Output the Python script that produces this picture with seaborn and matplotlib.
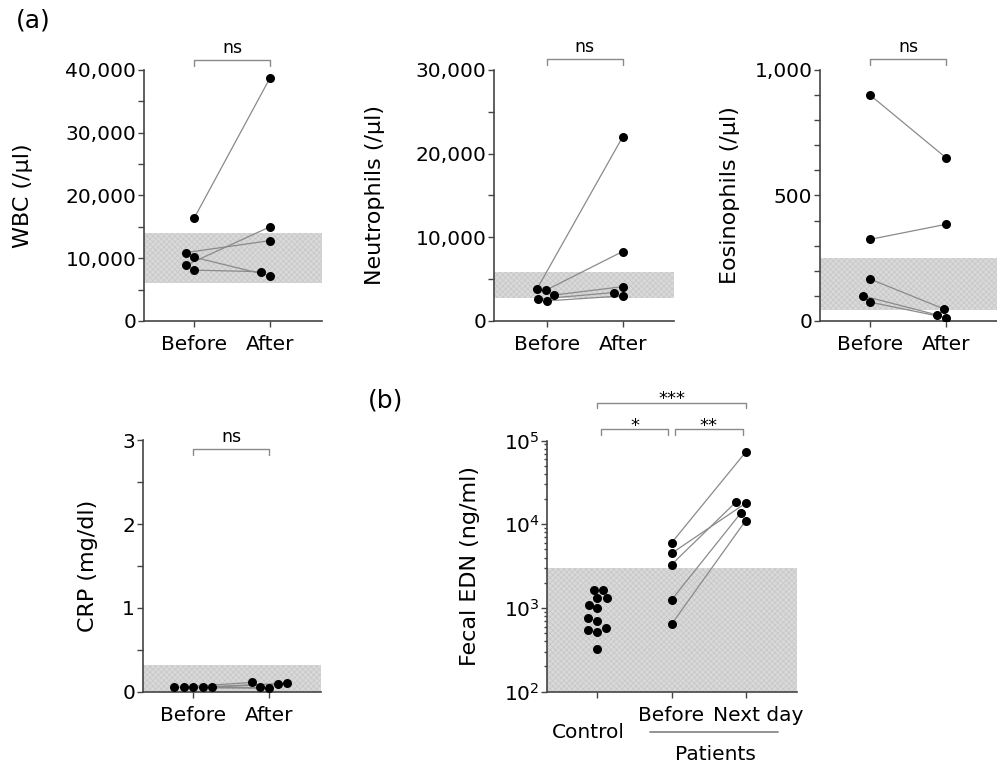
import numpy as np
import pandas as pd
import matplotlib
matplotlib.use("Agg")
import matplotlib.pyplot as plt
import matplotlib.ticker as mticker
from matplotlib.transforms import ScaledTranslation
import seaborn as sns

# paired patient values: index i of "before" goes with index i of "after"
wbc_before = [16400, 10900, 8900, 10150, 8100]
wbc_after = [38700, 12800, 15000, 7200, 7850]
neu_before = [3800, 3700, 3100, 2600, 2400]
neu_after = [22000, 8300, 4100, 3400, 3000]
eos_before = [900, 325, 167, 100, 75]
eos_after = [650, 385, 48, 24, 13]
crp_before = [0.05, 0.05, 0.05, 0.05, 0.05]
crp_after = [0.10, 0.04, 0.09, 0.11, 0.05]

# fecal EDN (ng/ml)
edn_control = [1650, 1640, 1310, 1300, 1090, 990, 750, 690, 570, 540, 520, 320]
edn_before = [6000, 4500, 3300, 1250, 640]
edn_nextday = [73000, 17900, 18700, 13800, 11100]

# shaded normal ranges
wbc_range = (6000, 14000)
neu_range = (2700, 5900)
eos_range = (45, 250)
crp_range = (0, 0.32)
edn_range = (100, 3000)

pair_labels = ["Before", "After"]
edn_labels = ["Control", "Before", "Next day"]

GRAY = "#8a8a8a"
AXC = "#444444"
TICK_FS = 14.5
LABEL_FS = 16


def swarm(ax, groups, labels):
    df = pd.DataFrame({
        "group": np.repeat(labels, [len(g) for g in groups]),
        "value": np.concatenate(groups),
    })
    n0 = len(ax.collections)
    sns.swarmplot(data=df, x="group", y="value", order=labels, color="black",
                  size=6.5, linewidth=0, zorder=3, ax=ax)
    return ax.collections[n0:]


def band(ax, rng):
    ax.axhspan(rng[0], rng[1], facecolor="#d9d9d9", edgecolor="#c6c6c6",
               hatch="xxxxxx", linewidth=0, zorder=0)


def style(ax, ylabel, label_x, xlim):
    ax.set_xlim(*xlim)
    ax.set_xlabel("")
    ax.set_ylabel(ylabel, fontsize=LABEL_FS)
    ax.yaxis.set_label_coords(label_x, 0.5)
    for s in ["top", "right"]:
        ax.spines[s].set_visible(False)
    for s in ["left", "bottom"]:
        ax.spines[s].set_color(AXC)
        ax.spines[s].set_linewidth(1.2)
    ax.tick_params(which="both", direction="out", length=4, width=1,
                   color=AXC, labelcolor="black", labelsize=TICK_FS, pad=1.5)
    ax.tick_params(axis="x", pad=6)


def bracket(ax, x0, x1, y, text, dy=4.8, fs=12.5):
    tr = ax.get_xaxis_transform()
    drop = 0.0227
    ax.plot([x0, x0, x1, x1], [y - drop, y, y, y - drop], color=GRAY, lw=1,
            transform=tr, clip_on=False)
    ax.annotate(text, xy=((x0 + x1) / 2, y), xycoords=tr, xytext=(0, dy),
                textcoords="offset points", ha="center", va="baseline", fontsize=fs)


def connect(ax, c0, c1):
    for p, q in zip(c0.get_offsets(), c1.get_offsets()):
        ax.plot([p[0], q[0]], [p[1], q[1]], color=GRAY, lw=0.9, zorder=2)


def nudge(label, dx_px, dy_px):
    label.set_transform(label.get_transform() +
                        ScaledTranslation(dx_px / 100, dy_px / 100, fig.dpi_scale_trans))


sns.set_style("ticks")
plt.rcParams["font.family"] = ["DejaVu Sans"]
plt.rcParams["mathtext.fontset"] = "dejavusans"
plt.rcParams["hatch.linewidth"] = 0.5
plt.rcParams["text.color"] = "black"
plt.rcParams["axes.labelcolor"] = "black"

fig = plt.figure(figsize=(9.97, 7.71), dpi=100)
ax_wbc = fig.add_axes([0.1444, 0.5837, 0.1785, 0.3256])
ax_neu = fig.add_axes([0.4955, 0.5837, 0.1805, 0.3256])
ax_eos = fig.add_axes([0.8225, 0.5837, 0.1775, 0.3256])
ax_crp = fig.add_axes([0.1431, 0.1029, 0.1785, 0.3261])
ax_edn = fig.add_axes([0.5490, 0.1029, 0.2501, 0.3256])

comma = mticker.StrMethodFormatter("{x:,.0f}")

# WBC
band(ax_wbc, wbc_range)
c_wbc = swarm(ax_wbc, [wbc_before, wbc_after], pair_labels)
ax_wbc.set_ylim(0, 40000)
ax_wbc.yaxis.set_major_locator(mticker.MultipleLocator(10000))
ax_wbc.yaxis.set_minor_locator(mticker.MultipleLocator(5000))
ax_wbc.yaxis.set_major_formatter(comma)
style(ax_wbc, "WBC (/\u03bcl)", -0.624, (-0.664, 1.687))
bracket(ax_wbc, 0, 1, 1.04, "ns")

# Neutrophils
band(ax_neu, neu_range)
c_neu = swarm(ax_neu, [neu_before, neu_after], pair_labels)
ax_neu.set_ylim(0, 30000)
ax_neu.yaxis.set_major_locator(mticker.MultipleLocator(10000))
ax_neu.yaxis.set_minor_locator(mticker.MultipleLocator(5000))
ax_neu.yaxis.set_major_formatter(comma)
style(ax_neu, "Neutrophils (/\u03bcl)", -0.606, (-0.70, 1.678))
bracket(ax_neu, 0, 1, 1.043, "ns")

# Eosinophils
band(ax_eos, eos_range)
c_eos = swarm(ax_eos, [eos_before, eos_after], pair_labels)
ax_eos.set_ylim(0, 1000)
ax_eos.yaxis.set_major_locator(mticker.MultipleLocator(500))
ax_eos.yaxis.set_minor_locator(mticker.MultipleLocator(100))
ax_eos.yaxis.set_major_formatter(comma)
style(ax_eos, "Eosinophils (/\u03bcl)", -0.452, (-0.658, 1.671))
bracket(ax_eos, 0, 1, 1.043, "ns")

# CRP
band(ax_crp, crp_range)
c_crp = swarm(ax_crp, [crp_before, crp_after], pair_labels)
ax_crp.set_ylim(0, 3)
ax_crp.yaxis.set_major_locator(mticker.MultipleLocator(1))
ax_crp.yaxis.set_minor_locator(mticker.MultipleLocator(0.5))
style(ax_crp, "CRP (mg/dl)", -0.251, (-0.666, 1.676))
bracket(ax_crp, 0, 1, 0.965, "ns")

# Fecal EDN (log scale)
ax_edn.set_yscale("log")
band(ax_edn, edn_range)
c_edn = swarm(ax_edn, [edn_control, edn_before, edn_nextday], edn_labels)
ax_edn.set_ylim(100, 1e5)
style(ax_edn, "Fecal EDN (ng/ml)", -0.27, (-0.674, 2.687))
ax_edn.tick_params(axis="y", which="minor", length=2.5)
bracket(ax_edn, 0.046, 0.957, 1.045, "*", dy=-1.2, fs=13)
bracket(ax_edn, 1.047, 1.96, 1.045, "**", dy=-1.2, fs=13)
bracket(ax_edn, 0, 2, 1.151, "***", dy=-1.2, fs=13)
xl = ax_edn.get_xticklabels()
nudge(xl[0], -9, -17)
nudge(xl[2], 12, 0)
tr = ax_edn.get_xaxis_transform()
ax_edn.plot([0.71, 2.43], [-0.159, -0.159], color=GRAY, lw=1.3, transform=tr, clip_on=False)
ax_edn.text(1.59, -0.25, "Patients", ha="center", va="center", fontsize=TICK_FS, transform=tr)

fig.text(0.0331, 0.974, "(a)", fontsize=18, ha="center", va="center")
fig.text(0.387, 0.480, "(b)", fontsize=18, ha="center", va="center")

# swarm offsets are placed at draw time, then join the paired points
fig.canvas.draw()
connect(ax_wbc, c_wbc[0], c_wbc[1])
connect(ax_neu, c_neu[0], c_neu[1])
connect(ax_eos, c_eos[0], c_eos[1])
connect(ax_crp, c_crp[0], c_crp[1])
connect(ax_edn, c_edn[1], c_edn[2])

fig.savefig("out.png", dpi=100)
